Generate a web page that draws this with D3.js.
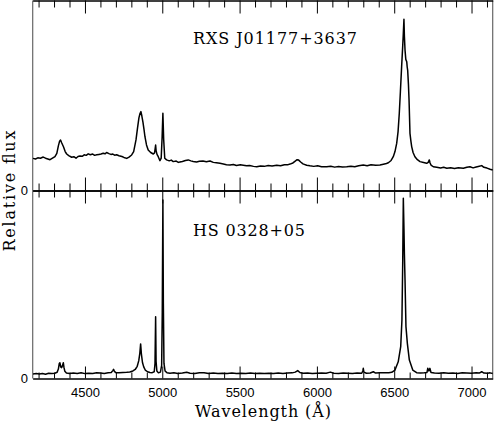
<!DOCTYPE html>
<html>
<head>
<meta charset="utf-8">
<script src="https://cdn.jsdelivr.net/npm/d3@7"></script>
<style>
  body { margin: 0; background: #fff; }
  svg { display: block; }
</style>
</head>
<body>
<div id="chart"></div>
<script>
// spectra (wavelength in A, relative flux)
var topName = "RXS J01177+3637";
var topWave = [4164,4180,4195,4212,4230,4245,4260,4274,4290,4306,4318,4328,4336,4342,4350,4361,4372,4382,4395,4414,
  4428,4442,4455,4468,4482,4495,4508,4521,4535,4550,4563,4576,4590,4604,4618,4630,4640,4655,4668,4680,
  4692,4705,4720,4739,4752,4770,4785,4802,4815,4830,4840,4849,4856,4862,4868,4875,4882,4888,4898,4909,
  4925,4942,4950,4954,4957,4960,4966,4974,4985,4993,4999,5004,5009,5016,5028,5045,5058,5071,5090,5104,
  5114,5130,5150,5168,5185,5200,5222,5240,5263,5285,5309,5330,5350,5373,5395,5415,5438,5460,5480,5505,
  5524,5545,5565,5590,5611,5635,5660,5685,5710,5740,5765,5790,5810,5826,5845,5860,5872,5882,5895,5910,
  5934,5955,5980,6005,6030,6063,6090,6115,6140,6165,6193,6220,6245,6270,6300,6325,6350,6380,6408,6430,
  6450,6462,6480,6494,6505,6516,6525,6533,6540,6548,6555,6559,6563,6566,6570,6575,6581,6584,6587,6592,
  6596,6602,6608,6613,6622,6634,6650,6667,6690,6710,6720,6727,6732,6738,6753,6775,6800,6820,6840,6865,
  6890,6915,6947,6970,6990,7010,7030,7050,7066,7080,7100,7120,7137];
var topFlux = [1.69,1.66,1.72,1.70,1.76,1.70,1.66,1.62,1.70,1.78,1.95,2.35,2.60,2.66,2.50,2.30,2.05,1.92,1.84,1.75,
  1.78,1.70,1.79,1.82,1.80,1.88,1.85,1.93,1.88,1.92,1.85,1.88,1.90,1.92,1.96,1.93,2.00,1.94,1.90,1.92,
  1.86,1.88,1.83,1.79,1.74,1.69,1.76,1.87,2.05,2.66,3.30,3.82,4.05,4.15,3.92,3.60,3.20,2.83,2.40,2.13,
  2.00,1.92,1.98,2.20,2.39,2.10,1.90,1.78,1.57,1.70,2.80,4.06,2.70,1.70,1.61,1.56,1.60,1.52,1.55,1.48,
  1.50,1.53,1.58,1.61,1.56,1.53,1.50,1.54,1.55,1.51,1.55,1.48,1.46,1.43,1.40,1.36,1.34,1.37,1.32,1.35,
  1.33,1.30,1.32,1.27,1.25,1.29,1.27,1.31,1.29,1.33,1.30,1.36,1.35,1.39,1.45,1.55,1.62,1.60,1.50,1.40,
  1.33,1.30,1.27,1.30,1.25,1.25,1.28,1.23,1.26,1.24,1.25,1.28,1.25,1.30,1.34,1.30,1.35,1.33,1.34,1.38,
  1.42,1.46,1.58,1.78,2.05,2.48,3.10,4.08,5.20,6.52,7.60,8.27,9.01,8.10,7.39,6.90,6.78,6.50,6.34,5.60,
  4.76,3.01,2.60,2.31,2.00,1.78,1.62,1.52,1.47,1.43,1.48,1.61,1.45,1.34,1.25,1.22,1.18,1.22,1.17,1.20,
  1.16,1.20,1.17,1.22,1.25,1.19,1.24,1.28,1.31,1.22,1.18,1.12,1.08];

var botName = "HS 0328+05";
var botWave = [4164,4185,4205,4225,4245,4265,4285,4305,4320,4328,4334,4338,4343,4349,4355,4360,4364,4370,4380,4400,
  4425,4450,4475,4500,4525,4550,4575,4600,4625,4650,4670,4680,4685,4690,4700,4720,4745,4770,4790,4810,
  4825,4838,4848,4855,4860,4865,4872,4880,4890,4905,4920,4935,4948,4953,4957,4960,4965,4975,4988,4996,
  5000,5004,5007,5011,5018,5030,5050,5075,5100,5130,5158,5180,5210,5240,5270,5300,5330,5360,5390,5420,
  5450,5480,5510,5540,5570,5600,5630,5660,5690,5720,5750,5780,5810,5840,5860,5876,5890,5910,5940,5970,
  6000,6030,6060,6087,6110,6140,6170,6200,6230,6260,6290,6297,6300,6304,6320,6345,6365,6380,6410,6440,
  6465,6484,6505,6526,6542,6550,6555,6559,6563,6566,6570,6576,6585,6598,6620,6645,6670,6695,6712,6717,
  6724,6731,6738,6760,6790,6820,6850,6880,6910,6940,6970,7000,7030,7050,7066,7080,7105,7120,7137];
var botFlux = [0.24,0.26,0.24,0.27,0.23,0.28,0.26,0.28,0.33,0.50,0.80,0.84,0.62,0.58,0.70,0.84,0.60,0.38,0.29,0.27,
  0.29,0.27,0.30,0.26,0.28,0.27,0.30,0.29,0.27,0.30,0.32,0.42,0.49,0.38,0.31,0.30,0.32,0.33,0.35,0.40,
  0.48,0.65,0.95,1.35,1.84,1.30,0.85,0.62,0.45,0.36,0.32,0.31,0.36,0.80,3.29,0.90,0.40,0.30,0.34,0.70,
  3.50,9.49,4.00,0.80,0.40,0.31,0.28,0.30,0.27,0.29,0.33,0.28,0.27,0.30,0.31,0.27,0.29,0.26,0.28,0.27,
  0.29,0.26,0.28,0.27,0.29,0.27,0.28,0.26,0.28,0.27,0.29,0.27,0.29,0.30,0.34,0.42,0.32,0.28,0.29,0.27,
  0.28,0.29,0.28,0.34,0.28,0.27,0.29,0.28,0.27,0.29,0.28,0.40,0.54,0.34,0.28,0.29,0.36,0.29,0.30,0.30,
  0.31,0.33,0.45,0.89,1.69,3.11,6.13,9.59,8.00,6.60,5.24,2.76,1.87,0.98,0.45,0.31,0.29,0.30,0.32,0.54,
  0.40,0.54,0.32,0.29,0.28,0.30,0.28,0.29,0.27,0.30,0.29,0.28,0.30,0.29,0.36,0.29,0.28,0.30,0.27];

var majorTicks = [4500, 5000, 5500, 6000, 6500, 7000];
var minorTicks = d3.range(4200, 7200, 100).filter(function(v) { return v % 500 != 0; });

// set the dimensions
var width = 494, height = 424;
var plotLeft = 32.7, plotRight = 492.7, plotTop = 0.5, plotMid = 190.5, plotBottom = 378.5;

var svg = d3.select("#chart")
    .append("svg")
    .attr("width", width)
    .attr("height", height);

var x = d3.scaleLinear().domain([4162, 7137]).range([plotLeft, plotRight]);
var yTop = d3.scaleLinear().domain([0, 10]).range([plotMid, plotTop]);
var yBot = d3.scaleLinear().domain([0, 10]).range([plotBottom, plotMid]);

// frame sides
svg.append("line").attr("x1", plotLeft).attr("x2", plotLeft).attr("y1", plotTop).attr("y2", plotBottom)
    .attr("stroke", "#666").attr("stroke-width", 1.2);
svg.append("line").attr("x1", plotRight).attr("x2", plotRight).attr("y1", plotTop).attr("y2", plotBottom)
    .attr("stroke", "#666").attr("stroke-width", 1.2);

function tickAxis(axis, ypos, vals, size) {
    var g = svg.append("g")
        .attr("transform", "translate(0," + ypos + ")")
        .call(axis(x).tickValues(vals).tickSize(size).tickSizeOuter(0).tickFormat(""));
    g.selectAll("line").attr("stroke", "#000");
    g.select(".domain").attr("stroke", "#000");
    return g;
}

// top edge: ticks pointing down
tickAxis(d3.axisTop, plotTop, minorTicks, -7);
tickAxis(d3.axisTop, plotTop, majorTicks, -13);
// middle: ticks both ways
tickAxis(d3.axisBottom, plotMid, minorTicks, 7);
tickAxis(d3.axisBottom, plotMid, minorTicks, -7);
tickAxis(d3.axisBottom, plotMid, majorTicks, 13);
tickAxis(d3.axisBottom, plotMid, majorTicks, -13);
// bottom: ticks pointing up
tickAxis(d3.axisBottom, plotBottom, minorTicks, -6);
tickAxis(d3.axisBottom, plotBottom, majorTicks, -12);

// bottom tick labels
var xLab = svg.append("g")
    .attr("transform", "translate(0," + plotBottom + ")")
    .call(d3.axisBottom(x).tickValues(majorTicks).tickSize(0).tickPadding(9).tickFormat(d3.format("d")));
xLab.select(".domain").remove();
xLab.selectAll("text")
    .attr("font-family", "Liberation Sans, Arial, sans-serif")
    .attr("font-size", "13px")
    .attr("fill", "#000");

// spectra
var lineTop = d3.line().x(function(d) { return x(d[0]); }).y(function(d) { return yTop(d[1]); });
var lineBot = d3.line().x(function(d) { return x(d[0]); }).y(function(d) { return yBot(d[1]); });

svg.append("path")
    .datum(d3.zip(topWave, topFlux))
    .attr("d", lineTop)
    .attr("fill", "none")
    .attr("stroke", "#000")
    .attr("stroke-width", 1.5)
    .attr("stroke-linejoin", "round");

svg.append("path")
    .datum(d3.zip(botWave, botFlux))
    .attr("d", lineBot)
    .attr("fill", "none")
    .attr("stroke", "#000")
    .attr("stroke-width", 1.5)
    .attr("stroke-linejoin", "round");

// zero labels
[yTop(0), yBot(0)].forEach(function(yy) {
    svg.append("text")
        .attr("x", 28)
        .attr("y", yy)
        .attr("dy", "0.35em")
        .attr("text-anchor", "end")
        .attr("font-family", "Liberation Sans, Arial, sans-serif")
        .attr("font-size", "13px")
        .text("0");
});

// panel names
svg.append("text")
    .attr("x", 193)
    .attr("y", 44)
    .attr("font-family", "DejaVu Serif, serif")
    .attr("font-size", "16px")
    .attr("textLength", 164)
    .attr("lengthAdjust", "spacing")
    .text(topName);

svg.append("text")
    .attr("x", 193)
    .attr("y", 235.5)
    .attr("font-family", "DejaVu Serif, serif")
    .attr("font-size", "16px")
    .attr("textLength", 112)
    .attr("lengthAdjust", "spacing")
    .text(botName);

// axis labels
svg.append("text")
    .attr("x", 195)
    .attr("y", 417)
    .attr("font-family", "DejaVu Serif, serif")
    .attr("font-size", "16px")
    .attr("textLength", 136)
    .attr("lengthAdjust", "spacing")
    .text("Wavelength (Å)");

svg.append("text")
    .attr("transform", "translate(14.5," + 191 + ") rotate(-90)")
    .attr("text-anchor", "middle")
    .attr("font-family", "DejaVu Serif, serif")
    .attr("font-size", "16px")
    .attr("textLength", 121)
    .attr("lengthAdjust", "spacing")
    .text("Relative flux");
</script>
</body>
</html>
